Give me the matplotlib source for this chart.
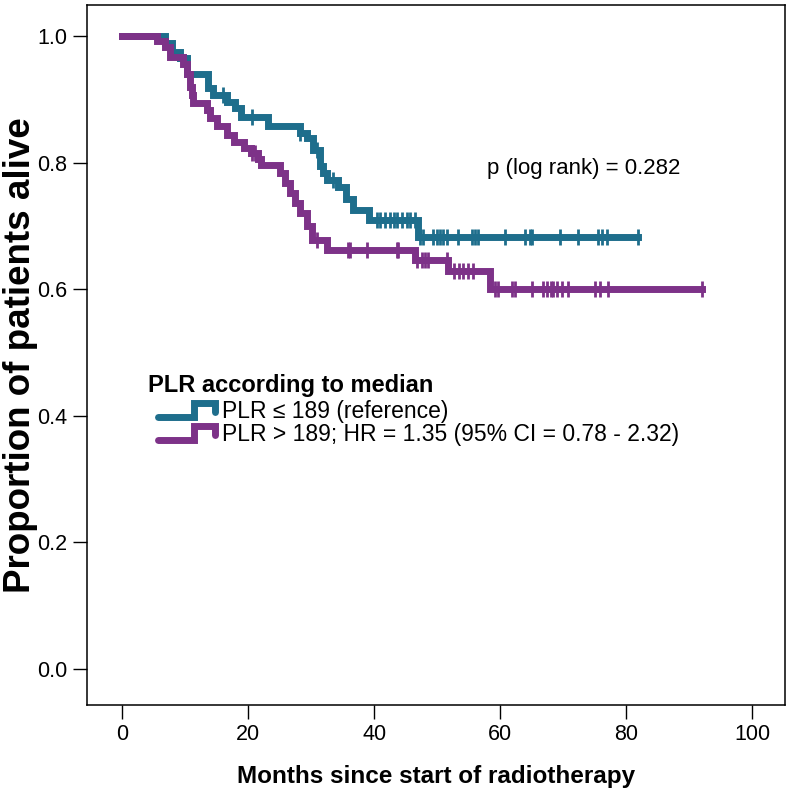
import numpy as np
import matplotlib
matplotlib.use("Agg")
import matplotlib.pyplot as plt
from matplotlib.lines import Line2D
from matplotlib.legend_handler import HandlerBase

plt.rcParams['font.family'] = ['Liberation Sans', 'DejaVu Sans']

# Kaplan-Meier steps
# PLR <= 189 (reference)
times_low = [0, 6.8, 7.9, 9.2, 10.3, 13.6, 14.4, 16.6, 17.9, 18.8, 23.2, 28.2,
             29.4, 30.3, 31.4, 31.9, 32.5, 34.3, 35.5, 36.7, 39.2, 47.0]
surv_low = [1.0, 0.989, 0.975, 0.965, 0.94, 0.918, 0.907, 0.896, 0.886, 0.872,
            0.857, 0.847, 0.839, 0.82, 0.795, 0.784, 0.773, 0.762, 0.742, 0.725,
            0.709, 0.683]
censor_low = [16.0, 20.6, 28.3, 30.9, 33.5, 40.5, 41.0, 41.7, 42.5, 43.2, 43.7,
              44.4, 45.2, 45.7, 46.5, 47.3, 47.8, 49.4, 50.0, 50.5, 51.0, 51.6,
              53.3, 55.6, 56.0, 56.5, 60.8, 64.0, 64.8, 65.1, 69.5, 72.4, 75.6,
              76.2, 77.0, 81.9]

# PLR > 189
times_high = [0, 5.5, 6.8, 7.6, 9.7, 10.3, 10.8, 11.1, 11.3, 13.5, 14.0, 15.1,
              16.7, 17.8, 19.4, 20.5, 21.6, 22.1, 25.1, 25.9, 26.7, 27.5, 28.3,
              29.4, 30.2, 32.5, 46.5, 51.8, 58.4]
surv_high = [1.0, 0.992, 0.983, 0.967, 0.955, 0.94, 0.92, 0.907, 0.894, 0.883,
             0.870, 0.857, 0.843, 0.833, 0.823, 0.815, 0.806, 0.796, 0.784, 0.768,
             0.752, 0.736, 0.72, 0.70, 0.677, 0.662, 0.646, 0.628, 0.600]
censor_high = [20.6, 21.1, 31.0, 35.9, 36.2, 38.9, 43.6, 43.8, 46.8, 47.6, 48.1,
               48.6, 51.6, 52.6, 53.4, 54.1, 54.9, 55.7, 59.2, 59.7, 61.9, 62.4,
               65.1, 66.8, 67.5, 68.0, 68.4, 69.0, 69.8, 70.8, 75.1, 75.9, 77.1,
               92.0]

labels = ["PLR \u2264 189 (reference)",
          "PLR > 189; HR = 1.35 (95% CI = 0.78 - 2.32)"]
colors = ["#1e6e8c", "#7d3288"]
legend_title = "PLR according to median"
p_text = "p (log rank) = 0.282"


class StepHandler(HandlerBase):
    # legend key drawn as a small step, like the SPSS output
    def create_artists(self, legend, orig_handle, xdescent, ydescent,
                       width, height, fontsize, trans):
        x0 = -xdescent
        x = [x0, x0 + 0.62 * width, x0 + 0.62 * width, x0 + width, x0 + width]
        y = [0.05 * height, 0.05 * height, 0.85 * height, 0.85 * height, 0.35 * height]
        line = Line2D(x, y, color=orig_handle.get_color(),
                      lw=orig_handle.get_linewidth(),
                      solid_capstyle='round', solid_joinstyle='miter')
        line.set_transform(trans)
        return [line]


fig = plt.figure(figsize=(7.88, 7.90), dpi=100)
ax = fig.add_axes([0.1104, 0.1076, 0.8858, 0.8861])

handles = []
groups = [(times_low, surv_low, censor_low), (times_high, surv_high, censor_high)]
for (t, s, c), col in zip(groups, colors):
    t_arr = np.array(t + [max(c)])
    s_arr = np.array(s + [s[-1]])
    h, = ax.step(t_arr, s_arr, where='post', color=col, lw=5,
                 solid_joinstyle='miter', zorder=3)
    idx = np.searchsorted(t, c, side='right') - 1
    ax.plot(c, np.array(s)[idx], ls='none', marker='|', ms=11, mew=2,
            color=col, zorder=4)
    handles.append(h)

ax.text(73.3, 0.791, p_text, fontsize=16, ha='center', va='center')

# legend title drawn on its own, it sits left of the keys
ax.text(0.0874, 0.457, legend_title, transform=ax.transAxes, fontsize=17,
        fontweight='bold', ha='left', va='center')
ax.legend(handles, labels, handler_map={h: StepHandler() for h in handles},
          loc='upper left', bbox_to_anchor=(0.1017, 0.436), frameon=False,
          fontsize=16.5, borderpad=0, borderaxespad=0,
          labelspacing=0.0, handlelength=2.5, handletextpad=0.3,
          handleheight=0.8)

ax.set_xlim(-5.56, 105.2)
ax.set_ylim(-0.057, 1.049)
ax.set_xticks([0, 20, 40, 60, 80, 100])
ax.set_yticks([0.0, 0.2, 0.4, 0.6, 0.8, 1.0])
ax.set_yticklabels(["0.0", "0.2", "0.4", "0.6", "0.8", "1.0"])
ax.tick_params(direction='out', length=10, width=1, labelsize=15.5,
               colors='black', pad=4)
for sp in ax.spines.values():
    sp.set_linewidth(1.1)

ax.set_xlabel("Months since start of radiotherapy", fontsize=17.5,
              fontweight='bold', labelpad=14)
ax.set_ylabel("Proportion of patients alive", fontsize=26.5, fontweight='bold')
ax.yaxis.set_label_coords(-0.0705, 0.5)

fig.savefig("out.png", dpi=100)
